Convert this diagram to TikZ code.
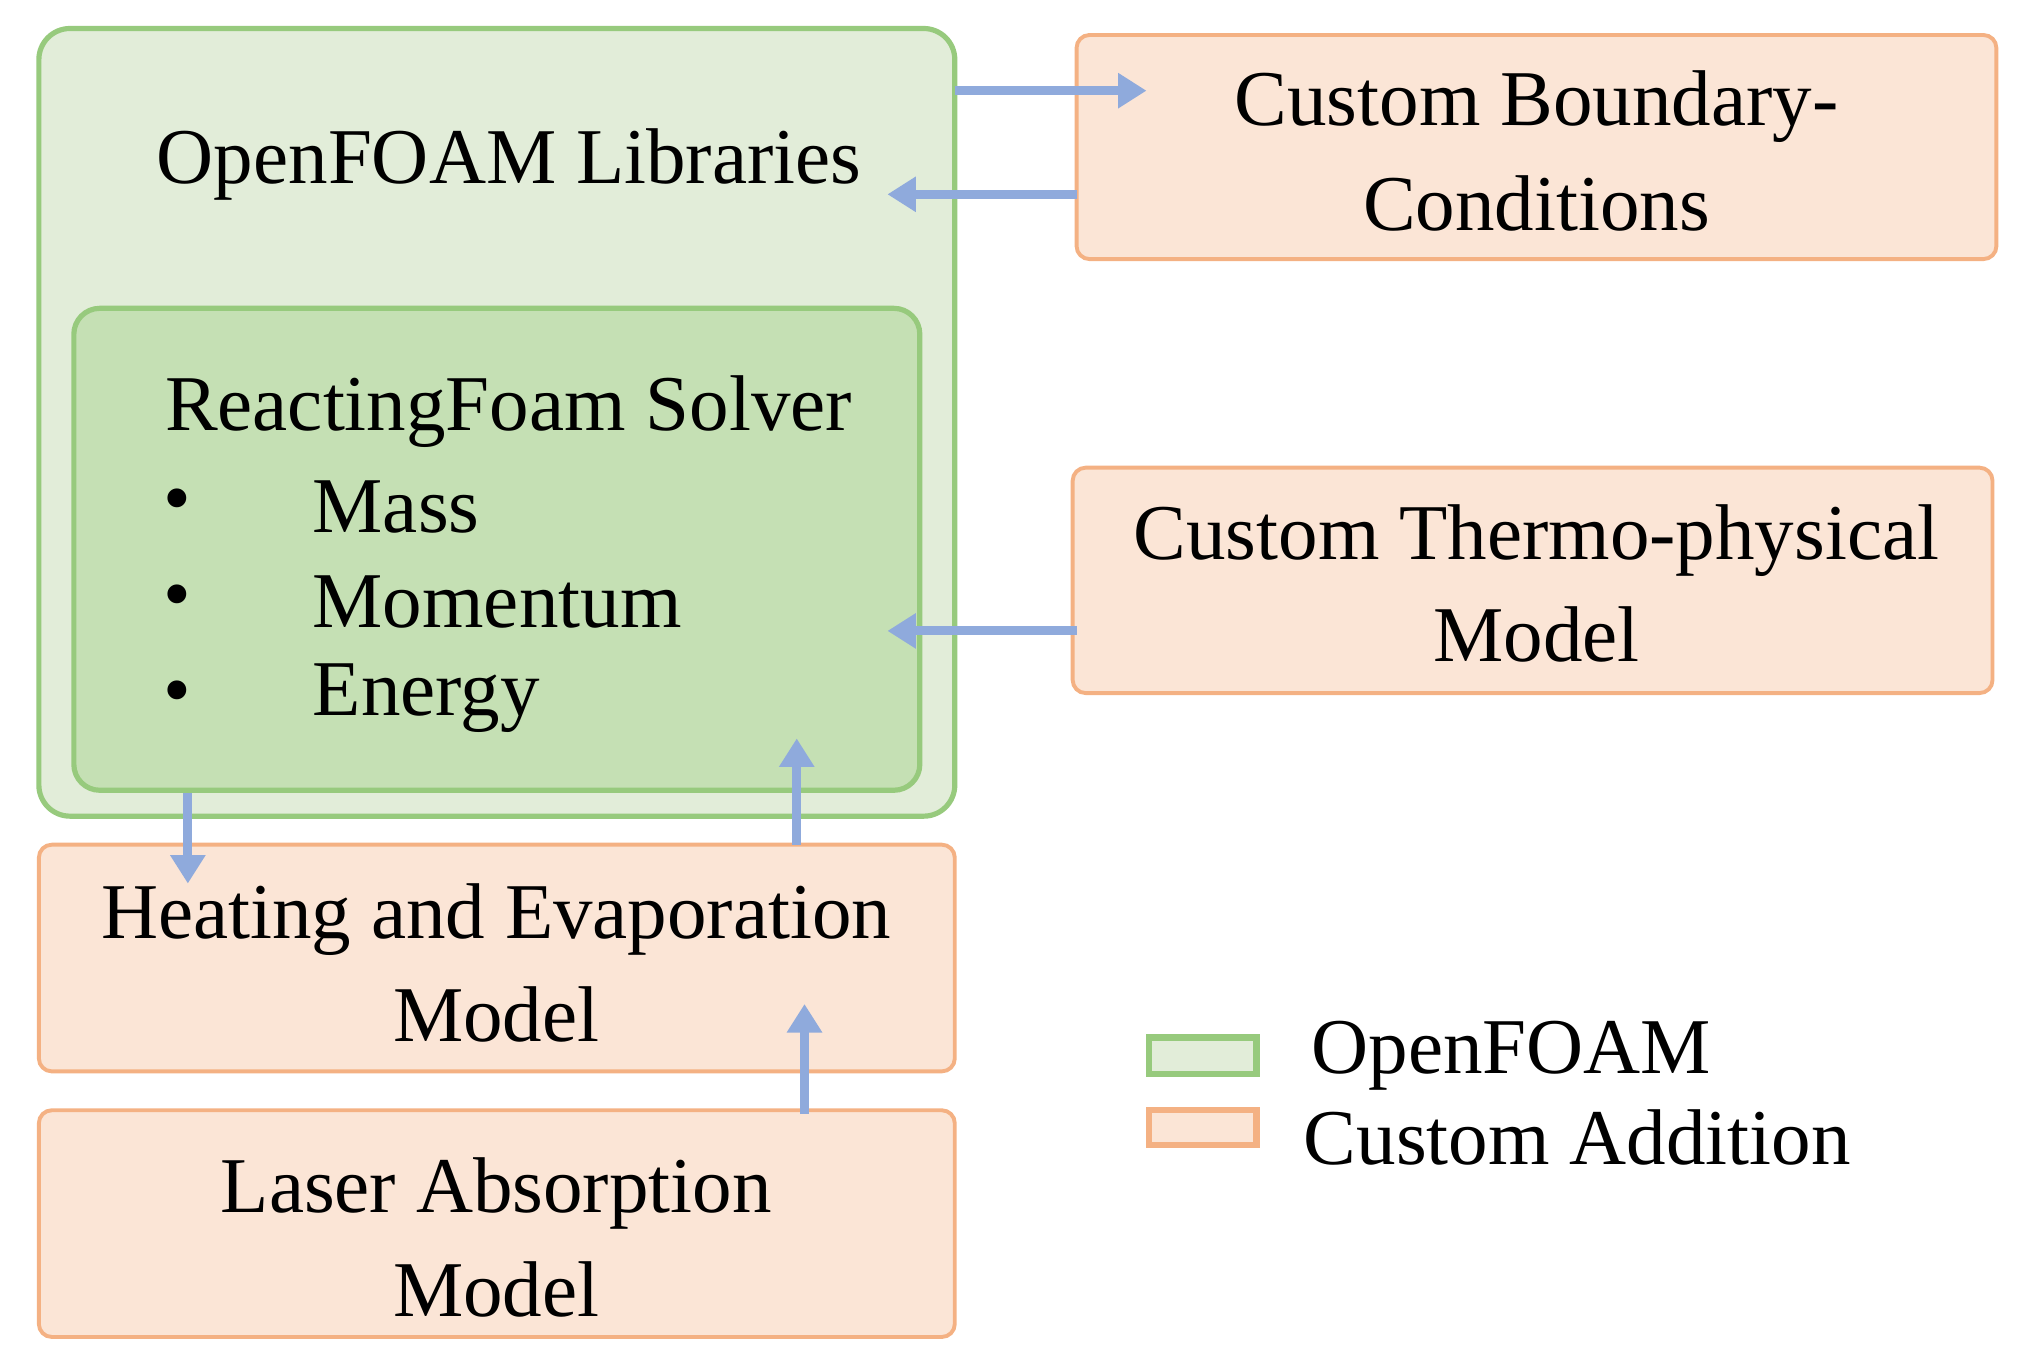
\documentclass[tikz,border=0pt]{standalone}
\usepackage{fontspec}
\setmainfont{Liberation Serif}
\usetikzlibrary{arrows.meta}
\definecolor{gfill}{HTML}{E2EDD9}
\definecolor{gfill2}{HTML}{C5E0B4}
\definecolor{gline}{HTML}{97CA7D}
\definecolor{ofill}{HTML}{FBE5D6}
\definecolor{oline}{HTML}{F4B183}
\definecolor{arr}{HTML}{8FAADC}
\begin{document}
\begin{tikzpicture}[x=0.5pt,y=-0.5pt,
  gbox/.style={draw=gline,fill=gfill,line width=2pt,rounded corners=12pt},
  gbox2/.style={draw=gline,fill=gfill2,line width=2pt,rounded corners=10pt},
  obox/.style={draw=oline,fill=ofill,line width=1.5pt,rounded corners=5pt},
  txt/.style={font=\fontsize{30.5}{36}\selectfont,inner sep=0pt},
  ar/.style={draw=arr,line width=3.5pt,-{Triangle[length=11pt,width=13pt]}}]
\useasboundingbox (0,0) rectangle (1560,1053);
\draw[gbox] (30,22) rectangle (737,630);
\draw[gbox2] (57,238) rectangle (710,610);
\draw[obox] (831,27) rectangle (1541,200);
\draw[obox] (828,361) rectangle (1538,535);
\draw[obox] (30,652) rectangle (737,827);
\draw[obox] (30,857) rectangle (737,1032);
\draw[draw=gline,fill=gfill,line width=2.5pt] (887,801) rectangle (970,829);
\draw[draw=oline,fill=ofill,line width=2.5pt] (887,857) rectangle (970,884);
\node[txt] (lib) at (393,127) {OpenFOAM Libraries};
\node[txt,anchor=west] (rf) at (127,318) {ReactingFoam Solver};
\foreach \y/\t in {391/Mass,465/Momentum,539/Energy}{
  \node[txt] at (137,\y) {•};
  \node[txt,anchor=west] at (241,\y) {\t};}
\node[txt] (cb1) at (1186,82) {Custom Boundary-};
\node[txt] (cb2) at (1186,157) {Conditions};
\node[txt] (th1) at (1186,417) {Custom Thermo-physical};
\node[txt] (th2) at (1186,490) {Model};
\node[txt] (he1) at (383,710) {Heating and Evaporation};
\node[txt] (he2) at (383,783) {Model};
\node[txt] (la1) at (383,921) {Laser Absorption};
\node[txt] (la2) at (383,995) {Model};
\node[txt,anchor=west] (l1) at (1012,815) {OpenFOAM};
\node[txt,anchor=west] (l2) at (1006,878) {Custom Addition};
\coordinate (a1) at (737,70); \coordinate (b1) at (885,70);
\coordinate (a2) at (831,150); \coordinate (b2) at (685,150);
\coordinate (a3) at (831,487); \coordinate (b3) at (685,487);
\coordinate (a4) at (145,612); \coordinate (b4) at (145,682);
\coordinate (a5) at (615,652); \coordinate (b5) at (615,570);
\coordinate (a6) at (621,860); \coordinate (b6) at (621,775);
\foreach \i in {1,...,6}{\draw[ar] (a\i) -- (b\i);}
\end{tikzpicture}
\end{document}
